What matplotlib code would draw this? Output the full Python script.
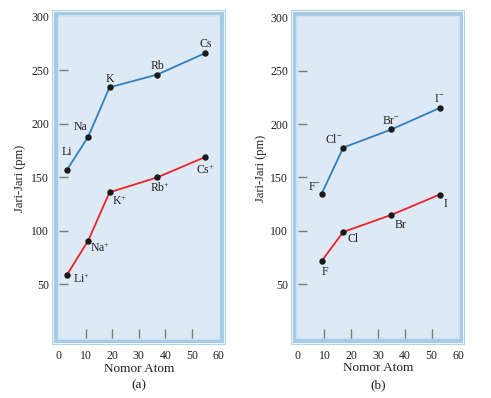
import matplotlib
matplotlib.use("Agg")
import matplotlib.pyplot as plt
from matplotlib.patches import Rectangle

plt.rcParams['font.family'] = ['Liberation Serif', 'DejaVu Serif']
plt.rcParams['mathtext.fontset'] = 'custom'
plt.rcParams['mathtext.rm'] = 'Liberation Serif'
plt.rcParams['mathtext.it'] = 'Liberation Serif:italic'

# (a) logam alkali
alk_z = [3, 11, 19, 37, 55]
alk_atom = [157, 188, 234, 246, 266]
alk_ion = [59, 91, 136, 150, 169]
alk_atom_lbl = ['Li', 'Na', 'K', 'Rb', 'Cs']
alk_ion_lbl = ['Li$^{+}$', 'Na$^{+}$', 'K$^{+}$', 'Rb$^{+}$', 'Cs$^{+}$']

# (b) halogen
hal_z = [9, 17, 35, 53]
hal_ion = [135, 178, 195, 215]
hal_atom = [72, 99, 115, 134]
hal_ion_lbl = ['F$^{-}$', 'Cl$^{-}$', 'Br$^{-}$', 'I$^{-}$']
hal_atom_lbl = ['F', 'Cl', 'Br', 'I']

x_ticks = [0, 10, 20, 30, 40, 50, 60]
y_ticks = [50, 100, 150, 200, 250, 300]

# label offsets in pixels (dx, dy)
alk_atom_off = [(0, 18), (-8, 10), (0, 8), (0, 9), (0, 9)]
alk_ion_off = [(14, -4), (12, -8), (10, -9), (3, -11), (0, -13)]
hal_ion_off = [(-7, 7), (-9, 8), (0, 8), (0, 9)]
hal_atom_off = [(3, -11), (10, -7), (9, -10), (6, -9)]

BLUE = '#2f7fc1'
RED = '#ec2228'
TXT = '#231f20'

W, H = 491, 398
fig = plt.figure(figsize=(W / 100, H / 100), dpi=100)
fig.patch.set_facecolor('white')

ax_a = fig.add_axes([59 / W, 1 - 338 / H, 159.5 / W, 321.3 / H])
ax_b = fig.add_axes([297.7 / W, 1 - 337.7 / H, 160.6 / W, 320.4 / H])


def frame(ax):
    p = ax.get_position()
    x0, y0, x1, y1 = p.x0 * W, p.y0 * H, p.x1 * W, p.y1 * H
    layers = [(7, '#b3d3ea'), (6, '#edf5fb'), (5, '#a7cbe6'), (1.5, '#cfe3f2')]
    for inset, col in layers:
        fig.patches.append(Rectangle(((x0 - inset) / W, (y0 - inset) / H),
                                     (x1 - x0 + 2 * inset) / W, (y1 - y0 + 2 * inset) / H,
                                     transform=fig.transFigure, facecolor=col,
                                     edgecolor='none', zorder=-1))


def style(ax, sub):
    ax.set_facecolor('#dde9f5')
    for s in ax.spines.values():
        s.set_visible(False)
    ax.set_xlim(0, 60)
    ax.set_ylim(0, 300)
    ax.set_xticks(x_ticks)
    ax.set_yticks(y_ticks)
    ax.tick_params(direction='in', length=6.5, width=1, color='#7a7a7a',
                   labelsize=8.5, labelcolor=TXT)
    ax.tick_params(axis='x', pad=8.5)
    ax.tick_params(axis='y', pad=7)
    # no tick marks at the frame edges
    for t in [ax.xaxis.get_major_ticks()[0], ax.xaxis.get_major_ticks()[-1],
              ax.yaxis.get_major_ticks()[-1]]:
        t.tick1line.set_visible(False)
    ax.text(0.5, -0.095, 'Nomor Atom', transform=ax.transAxes, ha='center', va='center',
            fontsize=9.5, color=TXT)
    ax.text(0.5, -0.147, sub, transform=ax.transAxes, ha='center', va='center',
            fontsize=9.5, color=TXT)
    frame(ax)


def series(ax, xs, ys, labels, offs, color):
    ax.plot(xs, ys, color=color, lw=1.3, zorder=2)
    ax.plot(xs, ys, 'o', color='#1a1a1a', ms=3.6, zorder=3)
    for x, y, t, (dx, dy) in zip(xs, ys, labels, offs):
        ax.annotate(t, (x, y), xytext=(dx, dy), textcoords='offset pixels',
                    ha='center', va='center', fontsize=8.5, color=TXT)


style(ax_a, '(a)')
style(ax_b, '(b)')

series(ax_a, alk_z, alk_atom, alk_atom_lbl, alk_atom_off, BLUE)
series(ax_a, alk_z, alk_ion, alk_ion_lbl, alk_ion_off, RED)
series(ax_b, hal_z, hal_ion, hal_ion_lbl, hal_ion_off, BLUE)
series(ax_b, hal_z, hal_atom, hal_atom_lbl, hal_atom_off, RED)

ax_a.text(-0.245, 0.496, 'Jari-Jari (pm)', transform=ax_a.transAxes, rotation=90,
          ha='center', va='center', fontsize=9, color=TXT)
ax_b.text(-0.229, 0.528, 'Jari-Jari (pm)', transform=ax_b.transAxes, rotation=90,
          ha='center', va='center', fontsize=9, color=TXT)

fig.savefig('out.png', dpi=100)
